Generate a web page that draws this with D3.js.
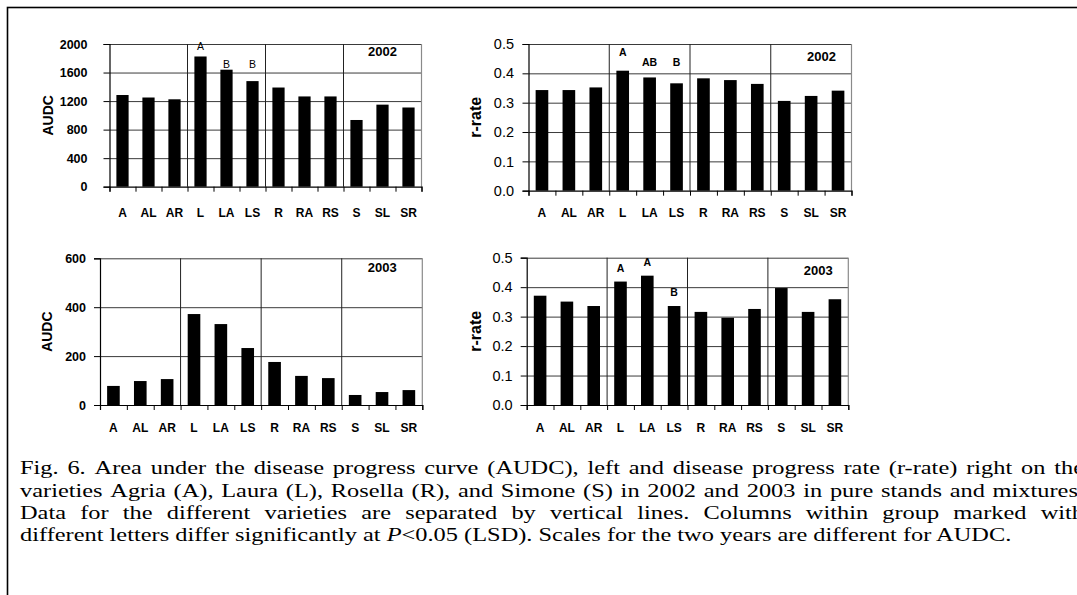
<!DOCTYPE html>
<html><head><meta charset="utf-8">
<script src="https://cdn.jsdelivr.net/npm/d3@7"></script>
<style>
html,body{margin:0;padding:0;background:#fff;overflow:hidden}
svg{display:block}
</style></head><body>
<svg id="fig" width="1077" height="595"></svg>
<script>
// Stand types: pure stands and two-variety mixtures
const categories = ["A","AL","AR","L","LA","LS","R","RA","RS","S","SL","SR"];
// first stand of each new variety group (vertical separator drawn before it)
const groupStarts = ["L","R","S"];

const audc2002  = [1285,1250,1225,1825,1640,1480,1390,1265,1265,935,1150,1110];
const rrate2002 = [0.343,0.343,0.352,0.409,0.386,0.366,0.383,0.377,0.364,0.306,0.323,0.341];
const audc2003  = [78,98,106,372,331,233,176,119,110,41,53,61];
const rrate2003 = [0.371,0.351,0.336,0.419,0.439,0.336,0.316,0.296,0.326,0.397,0.316,0.359];

const audcTicks2002 = [0,400,800,1200,1600,2000];
const audcTicks2003 = [0,200,400,600];
const rrateTicks    = [0,0.1,0.2,0.3,0.4,0.5];

// LSD groupings within the Laura group (anchored in data units)
const letters2002Audc  = [{cat:"L",text:"A",at:1972},{cat:"LA",text:"B",at:1720},{cat:"LS",text:"B",at:1720}];
const letters2002Rrate = [{cat:"L",text:"A",at:0.470},{cat:"LA",text:"AB",at:0.4386},{cat:"LS",text:"B",at:0.4386}];
const letters2003Rrate = [{cat:"L",text:"A",at:0.464},{cat:"LA",text:"A",at:0.484},{cat:"LS",text:"B",at:0.3825}];

const captionLines = [
  "Fig. 6. Area under the disease progress curve (AUDC), left and disease progress rate (r-rate) right on the",
  "varieties Agria (A), Laura (L), Rosella (R), and Simone (S) in 2002 and 2003 in pure stands and mixtures.",
  "Data for the different varieties are separated by vertical lines. Columns within group marked with",
  "different letters differ significantly at |P|<0.05 (LSD). Scales for the two years are different for AUDC."
];

const SANS = "'Liberation Sans', Arial, Helvetica, sans-serif";
const SERIF = "'Liberation Serif', 'Times New Roman', serif";

const svg = d3.select("#fig");

// page frame
svg.append("rect").attr("x",7.5).attr("y",7.5).attr("width",1200).attr("height",800)
  .attr("fill","none").attr("stroke","#000").attr("stroke-width",1.6);

const panels = [
  { values: audc2002, ticks: audcTicks2002, fmt: d3.format("d"), tickBold: true, tickSize: 12.5, tickPad: 16,
    box: {l:109.5, r:421.5, t:44, b:186.7}, title: "AUDC", titleSize: 14, titleX: 48, labelY: 213,
    year: "2002", yearDx: 39, yearDy: 7, letters: letters2002Audc, letterBold: false },
  { values: rrate2002, ticks: rrateTicks, fmt: d3.format(".1f"), tickBold: false, tickSize: 14.5, tickPad: 8.5,
    box: {l:528.5, r:851.5, t:44, b:190.7}, title: "r-rate", titleSize: 16, titleX: 475, labelY: 213,
    year: "2002", yearDx: 30, yearDy: 12, letters: letters2002Rrate, letterBold: true },
  { values: audc2003, ticks: audcTicks2003, fmt: d3.format("d"), tickBold: true, tickSize: 12.5, tickPad: 8,
    box: {l:100, r:422.3, t:258.3, b:405}, title: "AUDC", titleSize: 14, titleX: 47, labelY: 428,
    year: "2003", yearDx: 40, yearDy: 9, letters: [], letterBold: true },
  { values: rrate2003, ticks: rrateTicks, fmt: d3.format(".1f"), tickBold: false, tickSize: 14.5, tickPad: 8,
    box: {l:526.7, r:848.3, t:257.7, b:405}, title: "r-rate", titleSize: 16, titleX: 475, labelY: 428,
    year: "2003", yearDx: 30, yearDy: 13, letters: letters2003Rrate, letterBold: true }
];

panels.forEach(p => {
  const {l, r, t, b} = p.box;
  const g = svg.append("g");
  const x = d3.scaleBand().domain(categories).range([l, r]).paddingInner(0.53).paddingOuter(0.265);
  const xi = d3.scaleLinear().domain([0, categories.length]).range([l, r]);
  const y = d3.scaleLinear().domain([0, d3.max(p.ticks)]).range([b, t]);

  // horizontal gridlines
  g.append("g").attr("transform", `translate(${l},0)`)
    .call(d3.axisLeft(y).tickValues(p.ticks.slice(1)).tickSize(-(r - l)).tickFormat(""))
    .call(s => s.select(".domain").remove())
    .call(s => s.selectAll("line").attr("stroke", "#3a3a3a").attr("stroke-width", 1));

  // right border of plot area
  g.append("line").attr("x1", r).attr("x2", r).attr("y1", t).attr("y2", b)
    .attr("stroke", "#8a8a8a").attr("stroke-width", 1.2);

  // separators between variety groups
  g.selectAll(".sep").data(groupStarts).join("line")
    .attr("x1", d => xi(categories.indexOf(d))).attr("x2", d => xi(categories.indexOf(d)))
    .attr("y1", t).attr("y2", b).attr("stroke", "#222").attr("stroke-width", 1);

  // bars
  g.selectAll(".bar").data(p.values).join("rect")
    .attr("x", (d, i) => x(categories[i])).attr("width", x.bandwidth())
    .attr("y", d => y(d)).attr("height", d => b - y(d)).attr("fill", "#000");

  // y axis
  g.append("g").attr("transform", `translate(${l},0)`)
    .call(d3.axisLeft(y).tickValues(p.ticks).tickFormat(p.fmt).tickSize(6).tickPadding(p.tickPad))
    .call(s => s.select(".domain").attr("stroke", "#000").attr("stroke-width", 1.2))
    .call(s => s.selectAll("line").attr("stroke", "#000"))
    .call(s => s.selectAll("text").attr("font-family", SANS).attr("font-size", p.tickSize)
      .attr("font-weight", p.tickBold ? "bold" : "normal").attr("fill", "#000"));

  // x axis with ticks at category boundaries
  g.append("g").attr("transform", `translate(0,${b})`)
    .call(d3.axisBottom(xi).tickValues(d3.range(categories.length + 1)).tickFormat("").tickSize(5))
    .call(s => s.select(".domain").attr("stroke", "#000").attr("stroke-width", 1.2))
    .call(s => s.selectAll("line").attr("stroke", "#000"));

  // category labels
  g.selectAll(".cat").data(categories).join("text")
    .attr("x", d => x(d) + x.bandwidth() / 2).attr("y", p.labelY)
    .attr("dy", "0.35em").attr("text-anchor", "middle")
    .attr("font-family", SANS).attr("font-weight", "bold").attr("font-size", 12)
    .text(d => d);

  // axis title
  g.append("text")
    .attr("transform", `translate(${p.titleX},${(t + b) / 2}) rotate(-90)`)
    .attr("text-anchor", "middle").attr("dy", "0.35em")
    .attr("font-family", SANS).attr("font-weight", "bold").attr("font-size", p.titleSize)
    .text(p.title);

  // year label
  g.append("text").attr("x", r - p.yearDx).attr("y", t + p.yearDy)
    .attr("text-anchor", "middle").attr("dy", "0.35em")
    .attr("font-family", SANS).attr("font-weight", "bold").attr("font-size", 13)
    .text(p.year);

  // significance letters
  g.selectAll(".sig").data(p.letters).join("text")
    .attr("x", d => x(d.cat) + x.bandwidth() / 2).attr("y", d => y(d.at))
    .attr("text-anchor", "middle").attr("dy", "0.35em")
    .attr("font-family", SANS).attr("font-weight", p.letterBold ? "bold" : "normal")
    .attr("font-size", 10.5).text(d => d.text);
});

// caption: justified except for its last line; the type is set wide
const capLeft = 20, capRight = 1084, lastWidth = 992, capSize = 18;
const baselines = [474.3, 496.7, 519.1, 541.5];
const capOuter = svg.append("g").attr("transform", `translate(${capLeft},0)`);
const cap = capOuter.append("g").attr("font-family", SERIF).attr("font-size", capSize).attr("fill", "#000");

function addRich(sel, str) {
  str.split("|").forEach((part, i) => {
    if (part) sel.append("tspan").attr("font-style", i % 2 ? "italic" : "normal").text(part);
  });
}

const probe = cap.append("text");
addRich(probe, captionLines[3]);
const sx = lastWidth / probe.node().getComputedTextLength();
probe.remove();
cap.attr("transform", `scale(${sx},1)`);
const localRight = (capRight - capLeft) / sx;

captionLines.forEach((line, li) => {
  if (li === captionLines.length - 1) {
    const tx = cap.append("text").attr("x", 0).attr("y", baselines[li]);
    addRich(tx, line);
    return;
  }
  const words = line.split(" ");
  const nodes = words.map(w => {
    const tx = cap.append("text").attr("y", baselines[li]);
    addRich(tx, w);
    return tx;
  });
  const widths = nodes.map(n => n.node().getComputedTextLength());
  const gap = (localRight - d3.sum(widths)) / (words.length - 1);
  let cx = 0;
  nodes.forEach((n, i) => { n.attr("x", cx); cx += widths[i] + gap; });
});
</script></body></html>
